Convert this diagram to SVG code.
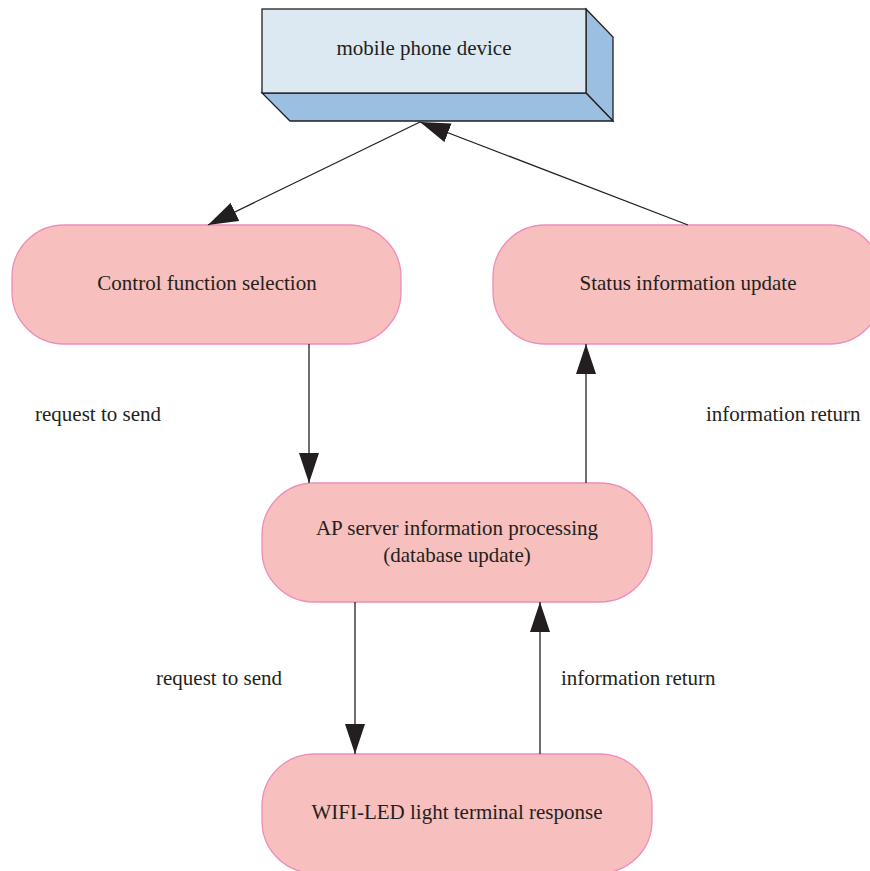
<svg xmlns="http://www.w3.org/2000/svg" width="870" height="871" viewBox="0 0 870 871">
<style>
.node{fill:#f7bfbd;stroke:#f08cba;stroke-width:1.3}
.t{font-family:"Liberation Serif","Times New Roman",serif;font-size:21px;fill:#231f20;text-anchor:middle}
.lbl{font-family:"Liberation Serif","Times New Roman",serif;font-size:21px;fill:#231f20}
.c{stroke:#231f20;stroke-width:1.3;fill:none;marker-end:url(#ah)}
</style>
<defs>
<marker id="ah" markerUnits="userSpaceOnUse" markerWidth="30" markerHeight="20" refX="30" refY="10" orient="auto" viewBox="0 0 30 20">
<path d="M0,0 L30,10 L0,20 Z" fill="#231f20"/>
</marker>
</defs>
<rect width="870" height="871" fill="#ffffff"/>
<g id="mobile">
<polygon points="586,9 613,37 613,121 586,93" fill="#9bbfe0" stroke="#231f20" stroke-width="1.3"/>
<polygon points="262,93 586,93 613,121 290,121" fill="#9bbfe0" stroke="#231f20" stroke-width="1.3"/>
<rect x="262" y="9" width="324" height="84" fill="#dce9f3" stroke="#231f20" stroke-width="1.3"/>
<text class="t" x="424" y="55">mobile phone device</text>
</g>
<g id="control">
<rect class="node" x="12" y="225" width="389" height="119" rx="52"/>
<text class="t" x="207" y="290">Control function selection</text>
</g>
<g id="status">
<rect class="node" x="493" y="225" width="389" height="119" rx="52"/>
<text class="t" x="688" y="290">Status information update</text>
</g>
<g id="ap">
<rect class="node" x="262" y="483" width="390" height="119" rx="52"/>
<text class="t" x="457" y="535">AP server information processing</text>
<text class="t" x="457" y="562">(database update)</text>
</g>
<g id="wifi">
<rect class="node" x="262" y="754" width="390" height="119" rx="52"/>
<text class="t" x="457" y="819">WIFI-LED light terminal response</text>
</g>
<g id="connectors">
<line class="c" x1="420" y1="122" x2="208" y2="225"/>
<line class="c" x1="688" y1="225" x2="420" y2="122"/>
<line class="c" x1="309" y1="344" x2="309" y2="483"/>
<line class="c" x1="586" y1="483" x2="586" y2="344"/>
<line class="c" x1="355" y1="602" x2="355" y2="754"/>
<line class="c" x1="540" y1="754" x2="540" y2="602"/>
</g>
<g id="labels">
<text class="lbl" x="35" y="421">request to send</text>
<text class="lbl" x="706" y="421">information return</text>
<text class="lbl" x="156" y="685">request to send</text>
<text class="lbl" x="561" y="685">information return</text>
</g>
</svg>
